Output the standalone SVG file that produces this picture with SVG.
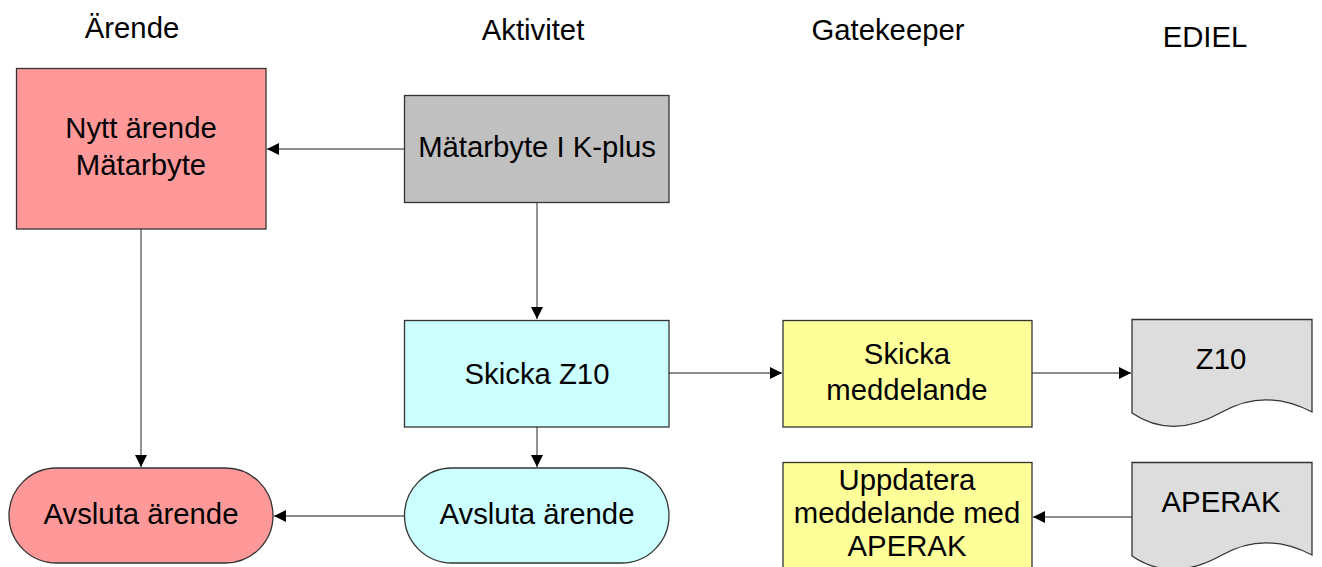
<svg xmlns="http://www.w3.org/2000/svg" width="1322" height="567" viewBox="0 0 1322 567">
<style>
text{font-family:"Liberation Sans",Arial,sans-serif;font-size:29.3px;fill:#000;text-anchor:middle}
.b{stroke:#333;stroke-width:1.3}
.c{stroke:#666;stroke-width:1.4;fill:none}
</style>
<defs>
<marker id="ah" viewBox="0 0 12 12" refX="12" refY="6" markerWidth="12" markerHeight="12" markerUnits="userSpaceOnUse" orient="auto">
<path d="M0,0 L12,6 L0,12 Z" fill="#000"/>
</marker>
</defs>
<rect width="1322" height="567" fill="#fff"/>
<g id="headers">
<text x="132" y="38">Ärende</text>
<text x="533" y="40">Aktivitet</text>
<text x="888" y="40">Gatekeeper</text>
<text x="1205" y="47">EDIEL</text>
</g>
<g id="connectors">
<path class="c" d="M404,149 H267" marker-end="url(#ah)"/>
<path class="c" d="M141,229 V467" marker-end="url(#ah)"/>
<path class="c" d="M537,203 V319" marker-end="url(#ah)"/>
<path class="c" d="M537,427 V467" marker-end="url(#ah)"/>
<path class="c" d="M404,516 H274" marker-end="url(#ah)"/>
<path class="c" d="M669,373 H782" marker-end="url(#ah)"/>
<path class="c" d="M1032,373 H1131" marker-end="url(#ah)"/>
<path class="c" d="M1132,517 H1033" marker-end="url(#ah)"/>
</g>
<g id="nytt">
<rect class="b" x="16.5" y="68.5" width="249.5" height="160.5" fill="#FF9999"/>
<text x="141" y="138">Nytt ärende</text>
<text x="141" y="175">Mätarbyte</text>
</g>
<g id="matarbyte">
<rect class="b" x="404.5" y="95.5" width="264.5" height="107" fill="#C0C0C0"/>
<text x="537" y="157">Mätarbyte I K-plus</text>
</g>
<g id="skickaz10">
<rect class="b" x="404.5" y="320.5" width="264.5" height="106.5" fill="#CCFFFF"/>
<text x="537" y="384">Skicka Z10</text>
</g>
<g id="avsluta1">
<rect class="b" x="9" y="468" width="264" height="95" rx="47.5" fill="#FF9999"/>
<text x="141" y="524">Avsluta ärende</text>
</g>
<g id="avsluta2">
<rect class="b" x="404.5" y="468" width="264.5" height="95" rx="47.5" fill="#CCFFFF"/>
<text x="537" y="524">Avsluta ärende</text>
</g>
<g id="skickamedd">
<rect class="b" x="783" y="320.5" width="249" height="106.5" fill="#FFFF99"/>
<text x="907" y="364">Skicka</text>
<text x="907" y="400">meddelande</text>
</g>
<g id="z10doc">
<path class="b" d="M1132,319.5 H1312 V412 C1285,398 1254,394 1222,412 C1190,430 1160,432 1132,413 Z" fill="#DDDDDD"/>
<text x="1221" y="369">Z10</text>
</g>
<g id="uppdatera">
<rect class="b" x="783" y="462.5" width="249" height="110" fill="#FFFF99"/>
<text x="907" y="490">Uppdatera</text>
<text x="907" y="523">meddelande med</text>
<text x="907" y="556">APERAK</text>
</g>
<g id="aperakdoc">
<path class="b" d="M1132,462.5 H1312 V555 C1285,541 1254,537 1222,555 C1190,573 1160,575 1132,556 Z" fill="#DDDDDD"/>
<text x="1221" y="512">APERAK</text>
</g>
</svg>
